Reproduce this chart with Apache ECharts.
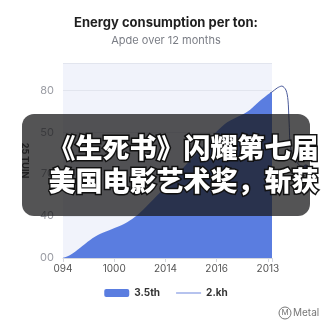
<!DOCTYPE html>
<html>
<head>
<meta charset="utf-8">
<script src="https://cdn.jsdelivr.net/npm/echarts@6/dist/echarts.min.js"></script>
<style>
  html, body { margin: 0; padding: 0; background: #fff; }
  #chart { width: 332px; height: 332px; }
</style>
</head>
<body>
<div id="chart"></div>
<script>
// labels as they appear on the picture
const xLabels = ['094', '1000', '2014', '2016', '2013']
const yLabels = ['00', '40', '70', '50', '80']

// filled series (x in tick units, y in axis units)
const areaX = [0, 0.14, 0.33, 0.53, 0.72, 0.96, 1.15, 1.35, 1.56, 2.09, 2.67, 3.16, 3.59, 3.84, 4.04, 4.08]
const areaY = [0, 1.4, 4.8, 8.6, 11.4, 13.8, 15.7, 18.6, 22.9, 36.2, 51.5, 63.9, 69.6, 74.9, 78.7, 79.2]

// the thin line starts where the fill ends and runs past the plot edge
const lineX = [4.04, 4.08, 4.18, 4.27, 4.35, 4.39, 4.41, 4.45, 4.6, 4.74]
const lineY = [78.7, 79.2, 81.1, 82.0, 80.1, 75.3, 65.8, 51.5, 44.5, 43.4]

const overlayLines = ['《生死书》闪耀第七届', '美国电影艺术奖，斩获']

const areaData = areaX.map((x, i) => [x, areaY[i]])
const lineData = lineX.map((x, i) => [x, lineY[i]])
lineData[lineData.length - 1] = { value: lineData[lineData.length - 1], symbol: 'circle', symbolSize: 5 }

// thin line legend icon (corner dots only keep the box size)
const lineIcon = 'path://M0,0L0.01,0L0,0.01Z M0,3.5L25,3.5L25,4.5L0,4.5Z M25,8L24.99,8L25,7.99Z'

const chart = echarts.init(document.getElementById('chart'))
chart.setOption({
  animation: false,
  title: {
    text: 'Energy consumption per ton:',
    subtext: 'Apde over 12 months',
    left: 'center',
    top: 12,
    itemGap: 5,
    textStyle: { fontSize: 13, fontWeight: 'bold', color: '#1f1f1f', fontFamily: 'Inter' },
    subtextStyle: { fontSize: 11, color: '#7a7d85', fontFamily: 'Inter' }
  },
  grid: [
    {
      left: 63,
      right: 60,
      top: 63,
      bottom: 74,
      show: true,
      backgroundColor: '#f1f3fb',
      borderWidth: 0
    },
    // same scale, wider, so the line can run past the plot
    { left: 63, right: 23, top: 63, bottom: 74 }
  ],
  legend: {
    bottom: 29,
    left: 'center',
    itemWidth: 25,
    itemHeight: 8,
    itemGap: 16,
    textStyle: { fontSize: 10, fontWeight: 'bold', color: '#333', fontFamily: 'Inter' },
    data: [
      { name: '3.5th', icon: 'roundRect' },
      { name: '2.kh', icon: lineIcon, itemStyle: { color: '#6f88de' } }
    ]
  },
  xAxis: [
    {
      type: 'value',
      min: 0,
      max: 4.08,
      interval: 1,
      axisLine: { lineStyle: { color: '#d6d8de' } },
      axisTick: { show: true, length: 4, lineStyle: { color: '#d6d8de' } },
      splitLine: { show: false },
      axisLabel: {
        fontSize: 10,
        color: '#555',
        margin: 6,
        fontFamily: 'Inter',
        formatter: v => Number.isInteger(v) ? (xLabels[v] || '') : ''
      }
    },
    { gridIndex: 1, type: 'value', min: 0, max: 4.8, show: false }
  ],
  yAxis: [
    {
      type: 'value',
      min: 0,
      max: 93,
      interval: 20,
      name: '25 TUIN',
      nameLocation: 'middle',
      nameRotate: -90,
      nameGap: 33,
      nameTextStyle: { fontSize: 9, fontWeight: 'bold', color: '#333', fontFamily: 'Inter' },
      axisLine: { show: false },
      axisTick: { show: false },
      splitLine: { lineStyle: { color: '#e2e5ee' } },
      axisLabel: {
        fontSize: 11,
        color: '#9a9ca3',
        margin: 9,
        fontFamily: 'Inter',
        formatter: v => (v % 20 === 0 && v <= 80) ? yLabels[v / 20] : ''
      }
    },
    { gridIndex: 1, type: 'value', min: 0, max: 93, show: false }
  ],
  series: [
    {
      name: '3.5th',
      type: 'line',
      data: areaData,
      smooth: 0.3,
      symbol: 'none',
      lineStyle: { width: 0 },
      itemStyle: { color: '#5a7de0' },
      areaStyle: { color: '#5a7de0', opacity: 1 }
    },
    {
      name: '2.kh',
      type: 'line',
      xAxisIndex: 1,
      yAxisIndex: 1,
      data: lineData,
      smooth: 0.3,
      symbol: 'none',
      z: 3,
      itemStyle: { color: '#4a5a9a' },
      lineStyle: { width: 1, color: '#4a5a9a' }
    }
  ],
  graphic: [
    {
      type: 'rect',
      z: 100,
      shape: { x: 22, y: 114, width: 288, height: 102, r: 12 },
      style: { fill: 'rgba(24,24,26,0.74)' }
    },
    {
      type: 'text',
      z: 101,
      left: 47,
      top: 133,
      style: {
        text: overlayLines[0],
        fontSize: 27,
        fontWeight: 900,
        fontFamily: 'Noto Sans CJK SC',
        fill: '#fff',
        stroke: '#111',
        lineWidth: 3
      }
    },
    {
      type: 'text',
      z: 101,
      left: 47,
      top: 166,
      style: {
        text: overlayLines[1],
        fontSize: 27,
        fontWeight: 900,
        fontFamily: 'Noto Sans CJK SC',
        fill: '#fff',
        stroke: '#111',
        lineWidth: 3
      }
    },
    {
      type: 'circle',
      z: 101,
      shape: { cx: 285, cy: 313, r: 6 },
      style: { fill: 'none', stroke: '#777', lineWidth: 1 }
    },
    {
      type: 'text',
      z: 101,
      x: 285,
      y: 313,
      style: { text: 'M', fontSize: 8, fill: '#777', fontFamily: 'Inter', align: 'center', verticalAlign: 'middle' }
    },
    {
      type: 'text',
      z: 101,
      x: 293,
      y: 313,
      style: { text: 'Metal', fontSize: 10, fill: '#777', fontFamily: 'Inter', verticalAlign: 'middle' }
    }
  ]
})
</script>
</body>
</html>
